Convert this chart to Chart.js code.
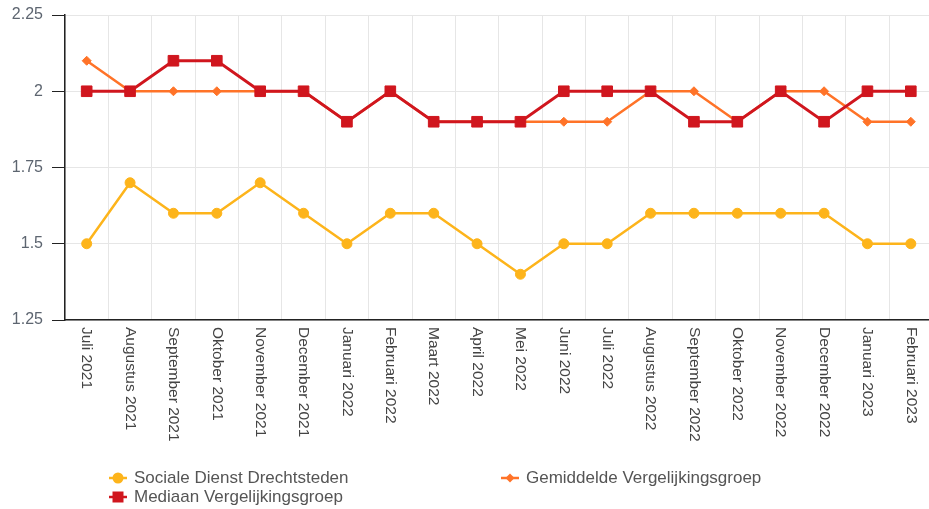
<!DOCTYPE html>
<html>
<head>
<meta charset="utf-8">
<script src="https://cdn.jsdelivr.net/npm/chart.js@4/dist/chart.umd.min.js"></script>
<style>
  body { margin: 0; overflow: hidden; background: #fff; font-family: "Liberation Sans", Arial, sans-serif; }
  #wrap { position: relative; width: 941px; height: 509px; }
  .legend-item { position: absolute; display: flex; align-items: center; font-size: 17px; color: #555; white-space: nowrap; }
  .legend-item canvas { margin-right: 6px; }
</style>
</head>
<body>
<div id="wrap">
  <canvas id="chart" width="941" height="509"></canvas>
  <div id="legend"></div>
</div>
<script>
// Data
const months = [
  "Juli 2021", "Augustus 2021", "September 2021", "Oktober 2021", "November 2021",
  "December 2021", "Januari 2022", "Februari 2022", "Maart 2022", "April 2022",
  "Mei 2022", "Juni 2022", "Juli 2022", "Augustus 2022", "September 2022",
  "Oktober 2022", "November 2022", "December 2022", "Januari 2023", "Februari 2023"
];
const sociale = [1.5, 1.7, 1.6, 1.6, 1.7, 1.6, 1.5, 1.6, 1.6, 1.5, 1.4, 1.5, 1.5, 1.6, 1.6, 1.6, 1.6, 1.6, 1.5, 1.5];
const gemiddelde = [2.1, 2.0, 2.0, 2.0, 2.0, 2.0, 1.9, 2.0, 1.9, 1.9, 1.9, 1.9, 1.9, 2.0, 2.0, 1.9, 2.0, 2.0, 1.9, 1.9];
const mediaan = [2.0, 2.0, 2.1, 2.1, 2.0, 2.0, 1.9, 2.0, 1.9, 1.9, 1.9, 2.0, 2.0, 2.0, 1.9, 1.9, 2.0, 1.9, 2.0, 2.0];
const yTicks = [1.25, 1.5, 1.75, 2, 2.25];

const seriesNames = ["Sociale Dienst Drechtsteden", "Gemiddelde Vergelijkingsgroep", "Mediaan Vergelijkingsgroep"];
const colors = ["#fdb41b", "#ff7328", "#d0161e"];

// Draw the month labels rotated clockwise, reading downwards
const xLabelsPlugin = {
  id: "xLabels",
  afterDraw(chart) {
    const ctx = chart.ctx;
    const xScale = chart.scales.x;
    ctx.save();
    ctx.font = '15.5px "Liberation Sans", Arial, sans-serif';
    ctx.fillStyle = "#444";
    ctx.textAlign = "left";
    ctx.textBaseline = "middle";
    months.forEach((m, i) => {
      const x = xScale.getPixelForValue(i);
      ctx.save();
      ctx.translate(x, xScale.top + 7);
      ctx.rotate(Math.PI / 2);
      ctx.fillText(m, 0, 0);
      ctx.restore();
    });
    ctx.restore();
  }
};

const ctx = document.getElementById("chart").getContext("2d");
new Chart(ctx, {
  type: "line",
  data: {
    labels: months,
    datasets: [
      {
        label: seriesNames[0], data: sociale, order: 2,
        borderColor: colors[0], backgroundColor: colors[0],
        borderWidth: 2.5, pointStyle: "circle", pointRadius: 5, pointBorderWidth: 1
      },
      {
        label: seriesNames[1], data: gemiddelde, order: 1,
        borderColor: colors[1], backgroundColor: colors[1],
        borderWidth: 2.5, pointStyle: "rectRot", pointRadius: 4.5, pointBorderWidth: 1
      },
      {
        label: seriesNames[2], data: mediaan, order: 0,
        borderColor: colors[2], backgroundColor: colors[2],
        borderWidth: 2.8, pointStyle: "rect", pointRadius: 7.5, pointBorderWidth: 1
      }
    ]
  },
  options: {
    responsive: false,
    animation: false,
    layout: { padding: { top: 15, right: 0, bottom: 0, left: 0 } },
    plugins: { legend: { display: false }, tooltip: { enabled: false } },
    scales: {
      x: {
        offset: true,
        grid: { color: "#e6e6e6", drawTicks: false, offset: true },
        border: { color: "#222", width: 1.5 },
        ticks: { display: false },
        afterFit(scale) { scale.height = 189; }
      },
      y: {
        min: yTicks[0],
        max: yTicks[yTicks.length - 1],
        afterBuildTicks(scale) { scale.ticks = yTicks.map(v => ({ value: v })); },
        grid: { color: "#e6e6e6", tickColor: "#222", tickLength: 13 },
        border: { color: "#222", width: 1.5 },
        ticks: {
          padding: 9,
          color: "#5d6570",
          font: { size: 16, family: '"Liberation Sans", Arial, sans-serif' },
          callback: v => String(v)
        },
        afterFit(scale) {
          scale.width = 65;
          scale.paddingTop = 0;
          scale.paddingBottom = 0;
        }
      }
    }
  },
  plugins: [xLabelsPlugin]
});

// Legend built in HTML: two columns, line + marker symbol
const legendPos = [[108, 478], [500, 478], [108, 497]];
const legend = document.getElementById("legend");
seriesNames.forEach((name, i) => {
  const item = document.createElement("div");
  item.className = "legend-item";
  item.style.left = legendPos[i][0] + "px";
  item.style.top = (legendPos[i][1] - 10) + "px";
  const c = document.createElement("canvas");
  c.width = 20; c.height = 20;
  const g = c.getContext("2d");
  g.strokeStyle = colors[i]; g.fillStyle = colors[i]; g.lineWidth = 2.5;
  g.beginPath(); g.moveTo(1, 10); g.lineTo(19, 10); g.stroke();
  g.beginPath();
  if (i === 0) g.arc(10, 10, 5.5, 0, Math.PI * 2);
  else if (i === 1) { g.moveTo(10, 5.5); g.lineTo(14.5, 10); g.lineTo(10, 14.5); g.lineTo(5.5, 10); g.closePath(); }
  else g.rect(4.5, 4.5, 11, 11);
  g.fill();
  item.appendChild(c);
  const span = document.createElement("span");
  span.textContent = name;
  item.appendChild(span);
  legend.appendChild(item);
});
</script>
</body>
</html>
